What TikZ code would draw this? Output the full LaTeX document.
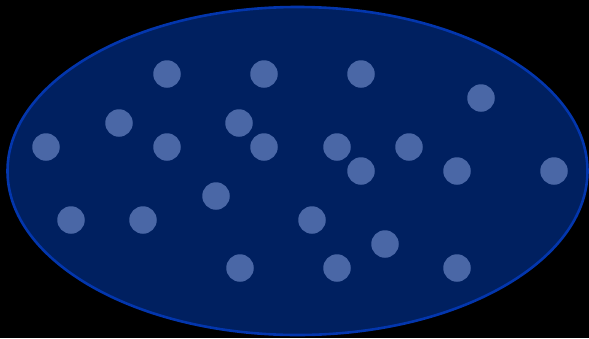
\documentclass[tikz,border=0pt]{standalone}
\begin{document}
\begin{tikzpicture}[x=1pt,y=-1pt,
  dot/.style={circle,fill=dotblue,inner sep=0pt,minimum size=27.5pt}]
\definecolor{bgblue}{HTML}{002060}
\definecolor{rimblue}{HTML}{0336AD}
\definecolor{dotblue}{HTML}{4A67A6}
\fill[black] (0,0) rectangle (589,338);
\useasboundingbox (0,0) rectangle (589,338);
\draw[rimblue,fill=bgblue,line width=2.6pt] (297.5,171) ellipse [x radius=290, y radius=164];
\foreach \x/\y [count=\i] in {167/74,264/74,361/74,481/98,119/123,239/123,46/147,167/147,264/147,337/147,409/147,361/171,457/171,554/171,216/196,71/220,143/220,312/220,385/244,240/268,337/268,457/268}
  \node[dot] (d\i) at (\x,\y) {};
\end{tikzpicture}
\end{document}
